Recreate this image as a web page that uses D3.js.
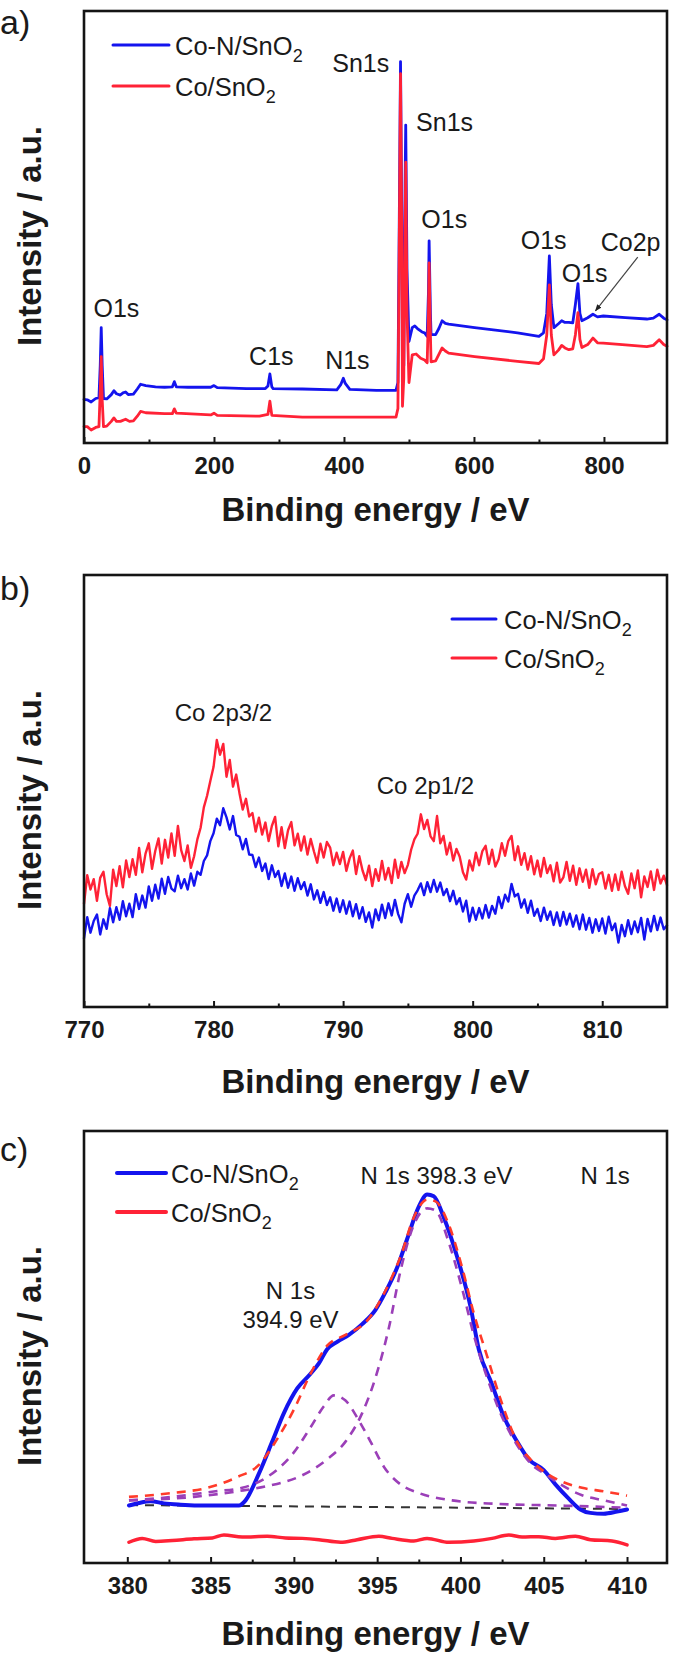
<!DOCTYPE html>
<html>
<head>
<meta charset="utf-8">
<script src="https://cdn.jsdelivr.net/npm/d3@7"></script>
<style>
  body { margin: 0; background: #ffffff; }
  svg { display: block; }
  text { font-family: "Liberation Sans", Arial, Helvetica, sans-serif; fill: #1a1a1a; }
</style>
</head>
<body>
<svg id="chart" width="675" height="1661"></svg>
<script>
// ---------------- DATA ----------------
const xTitle = "Binding energy / eV";
const yTitle = "Intensity / a.u.";
const seriesNames = ["Co-N/SnO", "Co/SnO"]; // each followed by subscript "2"
const seriesColors = ["#1414ee", "#ff2236"];

// (a) survey spectra: [binding energy eV, intensity a.u.]
const surveyBlue = [[0,10.1],[5,10.0],[11,9.5],[18,10.3],[23,10.5],[25,18],[26.5,26.7],[28,18],[30,10.3],[35,10.2],[42,11.2],[46,12.1],[50,11.4],[56,11.1],[60,11.6],[64,11.8],[68,11.2],[76,11.3],[82,12.5],[87,13.6],[95,13.3],[110,13.0],[124,12.9],[136,13.0],[139,14.2],[142,13.0],[160,12.9],[195,12.9],[200,13.3],[205,12.8],[250,12.6],[279,12.6],[283,13.2],[286,16.0],[289,13.0],[291,12.6],[336,12.5],[389,12.3],[395,13.5],[399,15.0],[402,13.8],[409,12.4],[450,12.2],[480,12.2],[483,14],[485,50],[487,88.3],[489,50],[490,16],[492,18],[494,60],[495,73.6],[497,40],[500,23.5],[505,26.7],[509,27.1],[513,26.5],[520,25.7],[524,25.5],[528,24.7],[530,35],[531,46.8],[533,30],[534,25.1],[541,25.1],[546,26.5],[551,28.3],[556,27.7],[561,27.5],[601,26.7],[667,25.5],[700,24.7],[707,25.5],[712,30],[716,43.3],[719,32],[723,26.7],[730,27.6],[735,28.3],[740,27.9],[746,27.9],[752,27.8],[756,32],[760,36.9],[763,30],[766,28.3],[775,29.0],[783,29.8],[790,29.2],[799,29.4],[833,29.0],[866,28.7],[876,28.9],[885,29.8],[892,28.9],[897,28.5]];
const surveyRed = [[0,3.8],[5,3.8],[11,3.0],[18,3.6],[23,3.8],[25,12],[26.5,20.0],[28,10],[30,3.8],[35,3.9],[42,5.0],[46,5.8],[50,5.0],[56,5.0],[64,5.5],[70,5.0],[76,5.1],[82,6.2],[87,7.3],[95,7.0],[124,6.8],[136,6.8],[139,7.9],[142,6.9],[195,6.5],[200,6.9],[205,6.4],[270,6.2],[283,6.6],[286,9.7],[289,6.4],[336,6.0],[399,6.0],[480,6.0],[483,8],[485,45],[487,85.5],[489,45],[490,8.5],[492,15],[494,50],[495,65],[497,30],[500,14.0],[505,20.4],[511,20.6],[518,19.6],[524,19.2],[528,18.6],[530,30],[531,41.7],[533,25],[534,18.8],[541,19.0],[546,20.5],[551,22.0],[556,21.3],[561,20.8],[601,20.0],[667,18.9],[700,18.4],[707,19.5],[712,25],[716,36.6],[719,25],[723,20.4],[730,21.5],[735,22.6],[740,22.0],[746,21.6],[752,21.8],[756,25],[760,30.2],[763,24],[766,22.1],[775,22.8],[783,24.3],[790,23.2],[799,23.1],[833,22.7],[866,22.3],[876,22.6],[885,23.9],[892,22.8],[897,22.4]];
const surveyLabels = [
  {text:"Sn1s", e:382, v:85.8}, {text:"Sn1s", e:511, v:72.2}, {text:"O1s", e:519, v:49.7},
  {text:"O1s", e:672, v:44.9}, {text:"O1s", e:735, v:37.2}, {text:"Co2p", e:795, v:44.4},
  {text:"O1s", e:14.6, v:29.1}, {text:"C1s", e:254, v:18.0}, {text:"N1s", e:371, v:17.1}
];
const surveyArrow = [[852, 43], [787, 30.6]];
const surveyDomain = [0, 897];
const surveyTicks = [0, 200, 400, 600, 800];
const surveyMinor = [100, 300, 500, 700];

// (b) Co 2p spectra, energy grid 770 eV onwards, 0.25 eV per point (4 points per eV per group)
const coStart = 770, coStep = 0.25;
const coRed = [
23.9,30.5,27.2,29.6, 24.6,29.9,31.3,26.1, 23.4,31.8,28.0,32.6, 27.7,33.9,30.1,34.2,
30.6,36.8,31.2,35.5, 37.9,32.0,36.1,39.0, 33.2,38.7,34.6,40.2, 35.0,41.9,36.3,33.8,
37.4,32.2,34.9,38.8, 41.5,46.2,48.9,52.3, 55.6,61.8,58.4,60.9, 53.3,57.2,51.0,53.8,
49.5,45.7,48.2,44.1, 44.9,40.6,43.8,39.9, 42.7,38.4,41.9,44.0, 37.2,41.6,36.8,40.9,
42.8,37.4,40.1,36.2, 39.5,35.3,38.9,36.0, 33.4,37.8,34.6,38.2, 36.9,32.8,35.7,33.1,
35.9,31.5,34.4,36.2, 30.8,34.9,31.6,29.4, 32.7,28.0,31.9,29.2, 33.8,29.5,32.2,28.7,
34.1,29.9,33.6,31.0, 32.9,36.4,38.8,40.1, 44.6,41.2,43.3,39.5, 38.4,44.2,37.9,39.6,
35.3,38.0,33.9,36.6, 34.8,31.2,29.5,33.9, 31.6,35.7,32.8,36.1, 37.3,33.1,36.4,32.5,
34.2,37.9,35.0,38.4, 39.6,34.0,37.2,32.9, 35.6,31.8,34.9,30.7, 33.9,30.2,34.5,31.0,
32.8,29.1,33.4,28.8, 30.0,33.6,29.2,32.7, 28.3,32.1,29.0,31.8, 27.6,31.9,28.4,30.8,
31.2,27.4,30.6,26.9, 30.7,27.1,31.3,28.0, 26.2,30.9,27.5,31.6, 25.4,30.2,27.8,31.4,
27.1,31.8,28.6,30.4, 28.2];
const coBlue = [
15.9,20.8,17.2,19.9, 21.4,16.8,20.3,18.1, 22.9,19.6,23.1,20.2, 24.5,21.0,23.9,20.8,
26.1,22.7,25.8,23.0, 27.9,24.6,28.3,25.1, 29.7,26.2,30.1,27.4, 26.8,30.4,27.5,29.6,
27.2,30.9,28.1,31.3, 30.6,33.8,35.1,38.4, 40.2,43.6,42.1,46.0, 43.9,41.1,44.2,39.8,
39.4,36.5,38.9,35.3, 35.2,32.4,34.6,31.5, 33.2,29.6,32.8,30.1, 31.5,28.0,30.9,27.6,
30.2,26.9,29.8,27.3, 28.9,25.8,28.4,24.9, 27.0,24.1,26.6,23.6, 25.4,22.3,25.1,22.0,
24.7,21.6,24.4,21.0, 23.8,20.5,23.1,19.7, 21.9,18.4,22.6,20.1, 23.7,20.6,24.0,21.2,
24.8,21.5,19.6,23.9, 26.1,23.2,25.8,27.0, 28.6,25.9,28.9,26.6, 29.4,26.7,28.8,25.9,
27.3,24.5,26.9,23.8, 25.2,22.1,24.6,19.8, 23.0,20.2,22.9,20.5, 23.6,20.7,23.4,21.6,
25.5,22.9,26.0,24.4, 28.5,25.6,26.2,23.0, 24.9,21.8,24.6,21.1, 22.7,19.9,23.0,20.2,
22.1,19.0,21.9,18.8, 22.0,19.1,21.6,18.6, 21.2,18.0,21.4,17.9, 20.6,17.2,20.3,17.6,
20.5,17.0,20.9,17.8, 19.3,14.9,19.0,16.4, 20.1,16.9,19.8,17.3, 20.6,15.6,20.4,17.5,
21.1,17.8,20.7,18.0, 18.9];
const coLabels = [{text:"Co 2p3/2", e:777.0, v:66.2}, {text:"Co 2p1/2", e:792.6, v:49.3}];
const coDomain = [770, 815];
const coTicks = [770, 780, 790, 800, 810];
const coMinor = [775, 785, 795, 805];

// (c) N 1s spectra and fit: [binding energy eV, intensity a.u.]
const nBlue = [[380.1,13.3],[380.7,13.9],[381.4,14.3],[382.2,13.8],[383.2,13.5],[384.8,13.3],[386.7,13.3],[387.1,14.5],[387.9,20.7],[388.7,28.1],[389.4,34.7],[390.2,40.4],[391.0,43.8],[391.5,46.2],[392.0,49.5],[392.6,51.2],[393.3,52.8],[394.1,55.3],[394.9,58.6],[395.5,62.7],[396.2,68.4],[396.8,75.0],[397.5,82.5],[398.0,85.3],[398.4,84.9],[399.0,80.0],[399.8,70.9],[400.6,59.4],[401.1,49.5],[401.9,41.3],[402.6,33.9],[403.4,28.1],[404.1,24.0],[405.0,21.5],[405.7,18.2],[406.5,14.9],[407.2,12.4],[407.8,11.6],[408.6,11.4],[409.4,11.9],[410.0,12.4]];
const nRed = [[380.1,4.8],[380.9,5.7],[381.7,5.0],[382.7,5.2],[384.0,5.6],[385.1,5.8],[385.8,6.5],[386.9,6.0],[388.4,6.2],[389.5,5.8],[390.5,5.7],[391.5,5.4],[392.8,4.8],[393.8,5.4],[395.1,6.2],[395.9,5.7],[397.2,5.1],[398.0,5.7],[399.3,4.8],[400.8,5.1],[401.9,5.7],[402.9,6.5],[403.7,6.0],[404.7,6.1],[405.7,5.7],[406.9,6.2],[407.8,5.4],[409.1,5.1],[410.0,4.2]];
const nFitSum = [[380.1,15.3],[382.7,16.2],[384.8,17.4],[386.6,19.9],[387.9,22.7],[388.9,28.1],[390.0,35.5],[391.0,43.8],[392.0,50.3],[393.1,52.8],[394.4,56.1],[395.4,62.3],[396.4,70.9],[397.2,80.0],[398.0,84.1],[398.5,83.7],[399.3,78.3],[400.1,68.4],[400.8,57.8],[401.6,47.9],[402.4,38.0],[403.4,28.1],[404.2,24.0],[405.2,20.7],[406.0,19.0],[407.3,17.4],[408.6,16.6],[410.0,15.6]];
const nFitPeak1 = [[380.1,14.5],[382.7,15.3],[385.3,16.6],[386.9,17.4],[388.4,19.9],[390.0,25.6],[391.0,31.4],[391.8,36.3],[392.4,38.8],[393.1,37.6],[393.9,33.0],[394.6,28.1],[395.4,22.3],[396.4,18.2],[397.5,16.2],[399.5,14.5],[402.1,13.7],[406.0,13.3],[410.0,12.8]];
const nFitPeak2 = [[380.1,14.5],[384.0,15.3],[386.6,16.6],[388.4,17.8],[390.5,20.3],[392.0,24.0],[393.1,28.1],[394.1,34.7],[394.9,42.9],[395.7,54.4],[396.4,67.6],[397.2,78.3],[398.0,82.1],[398.5,81.6],[399.3,74.2],[400.1,63.5],[400.8,52.8],[401.6,42.9],[402.4,34.7],[403.4,27.3],[404.2,23.1],[405.2,20.3],[406.0,18.2],[407.3,15.7],[408.6,14.5],[410.0,13.3]];
const nBaseline = [[380.1,13.4],[410.0,12.5]];
const nLabels = [
  {text:"N 1s 398.3 eV", e:394.0, v:87.7, anchor:"start"},
  {text:"N 1s", e:407.2, v:87.7, anchor:"start"},
  {text:"N 1s", e:389.8, v:61.1, anchor:"middle"},
  {text:"394.9 eV", e:389.8, v:54.4, anchor:"middle"}
];
const nDomain = [377.4, 412.4];
const nTicks = [380, 385, 390, 395, 400, 405, 410];
const nMinor = [382.5, 387.5, 392.5, 397.5, 402.5, 407.5];

// ---------------- DRAWING ----------------
const svg = d3.select("#chart");
const defs = svg.append("defs");
defs.append("marker").attr("id", "arrowhead").attr("viewBox", "0 0 10 10")
  .attr("refX", 9).attr("refY", 5).attr("markerWidth", 7).attr("markerHeight", 7)
  .attr("markerUnits", "userSpaceOnUse").attr("orient", "auto")
  .append("path").attr("d", "M0,1 L10,5 L0,9 Z").attr("fill", "#222");

function legendText(sel, name) {
  sel.text(name);
  sel.append("tspan").attr("font-size", 18).attr("dy", 7).text("2");
}

function drawPanel(cfg) {
  const g = svg.append("g");
  const x = d3.scaleLinear().domain(cfg.domain).range([cfg.left, cfg.right]);
  const y = d3.scaleLinear().domain([0, 100]).range([cfg.bottom, cfg.top]);
  const line = (curve) => d3.line().x(d => x(d[0])).y(d => y(d[1])).curve(curve || d3.curveLinear);

  cfg.series.forEach(s => {
    g.append("path").datum(s.data)
      .attr("d", line(s.curve))
      .attr("fill", "none")
      .attr("stroke", s.color)
      .attr("stroke-width", s.width)
      .attr("stroke-dasharray", s.dash || null)
      .attr("stroke-linejoin", "round")
      .attr("stroke-linecap", s.dash ? "butt" : "round");
  });

  // frame
  g.append("rect").attr("x", cfg.left).attr("y", cfg.top)
    .attr("width", cfg.right - cfg.left).attr("height", cfg.bottom - cfg.top)
    .attr("fill", "none").attr("stroke", "#141414").attr("stroke-width", 2.6);

  // axes
  const ax = g.append("g").attr("transform", `translate(0,${cfg.bottom})`)
    .call(d3.axisBottom(x).tickValues(cfg.ticks).tickSize(-6).tickPadding(14).tickFormat(d3.format("d")));
  ax.select(".domain").remove();
  ax.selectAll("line").attr("stroke", "#141414").attr("stroke-width", 2);
  ax.selectAll("text").attr("font-size", 24).attr("font-weight", "bold")
    .attr("font-family", "'Liberation Sans', Arial, sans-serif").attr("fill", "#141414");
  const axm = g.append("g").attr("transform", `translate(0,${cfg.bottom})`)
    .call(d3.axisBottom(x).tickValues(cfg.minor).tickSize(-3.5).tickFormat(""));
  axm.select(".domain").remove();
  axm.selectAll("line").attr("stroke", "#141414").attr("stroke-width", 2);

  // titles
  g.append("text").attr("x", (cfg.left + cfg.right) / 2).attr("y", cfg.xTitleY)
    .attr("text-anchor", "middle").attr("font-size", 33).attr("font-weight", "bold").text(xTitle);
  g.append("text").attr("transform", `translate(41,${(cfg.top + cfg.bottom) / 2 + 9}) rotate(-90)`)
    .attr("text-anchor", "middle").attr("font-size", 33).attr("font-weight", "bold").text(yTitle);

  // panel letter
  g.append("text").attr("x", 0).attr("y", cfg.letterY).attr("font-size", 34).text(cfg.letter);

  // annotations
  cfg.labels.forEach(l => {
    g.append("text").attr("x", x(l.e)).attr("y", y(l.v))
      .attr("text-anchor", l.anchor || "start").attr("font-size", cfg.labelSize).text(l.text);
  });
  if (cfg.arrow) {
    g.append("line").attr("x1", x(cfg.arrow[0][0])).attr("y1", y(cfg.arrow[0][1]))
      .attr("x2", x(cfg.arrow[1][0])).attr("y2", y(cfg.arrow[1][1]))
      .attr("stroke", "#444").attr("stroke-width", 1.2).attr("marker-end", "url(#arrowhead)");
  }

  // legend
  const lg = cfg.legend;
  seriesNames.forEach((name, i) => {
    const ly = lg.y + i * lg.gap;
    g.append("line").attr("x1", lg.x1).attr("x2", lg.x2).attr("y1", ly).attr("y2", ly)
      .attr("stroke", seriesColors[i]).attr("stroke-width", lg.width).attr("stroke-linecap", "round");
    g.append("text").attr("x", lg.tx).attr("y", ly + 9.5).attr("font-size", 25.5).call(legendText, name);
  });
}

const L = 84, R = 667;

drawPanel({
  letter: "a)", letterY: 34, domain: surveyDomain, left: L, right: R, top: 11, bottom: 443,
  ticks: surveyTicks, minor: surveyMinor, xTitleY: 521, labelSize: 25,
  series: [
    {data: surveyBlue, color: seriesColors[0], width: 2.8},
    {data: surveyRed, color: seriesColors[1], width: 2.8}
  ],
  labels: surveyLabels, arrow: surveyArrow,
  legend: {x1: 113, x2: 169, tx: 175, y: 45, gap: 41, width: 3}
});

const coRedPts = coRed.map((v, i) => [coStart + i * coStep, v]);
const coBluePts = coBlue.map((v, i) => [coStart + i * coStep, v]);
drawPanel({
  letter: "b)", letterY: 600, domain: coDomain, left: L, right: R, top: 575, bottom: 1007,
  ticks: coTicks, minor: coMinor, xTitleY: 1093, labelSize: 24,
  series: [
    {data: coBluePts, color: seriesColors[0], width: 2.4},
    {data: coRedPts, color: seriesColors[1], width: 2.4}
  ],
  labels: coLabels,
  legend: {x1: 452, x2: 496, tx: 504, y: 619, gap: 39, width: 3}
});

drawPanel({
  letter: "c)", letterY: 1161, domain: nDomain, left: L, right: R, top: 1131, bottom: 1563,
  ticks: nTicks, minor: nMinor, xTitleY: 1645, labelSize: 24,
  series: [
    {data: nBaseline, color: "#333333", width: 2, dash: "9,7"},
    {data: nBlue, color: seriesColors[0], width: 4, curve: d3.curveMonotoneX},
    {data: nRed, color: seriesColors[1], width: 3.5, curve: d3.curveMonotoneX},
    {data: nFitPeak1, color: "#9b3fb8", width: 2.6, dash: "9,7", curve: d3.curveMonotoneX},
    {data: nFitPeak2, color: "#9b3fb8", width: 2.6, dash: "9,7", curve: d3.curveMonotoneX},
    {data: nFitSum, color: "#ff3b2a", width: 2.6, dash: "9,7", curve: d3.curveMonotoneX}
  ],
  labels: nLabels,
  legend: {x1: 117, x2: 166, tx: 171, y: 1173, gap: 39, width: 4}
});
</script>
</body>
</html>
